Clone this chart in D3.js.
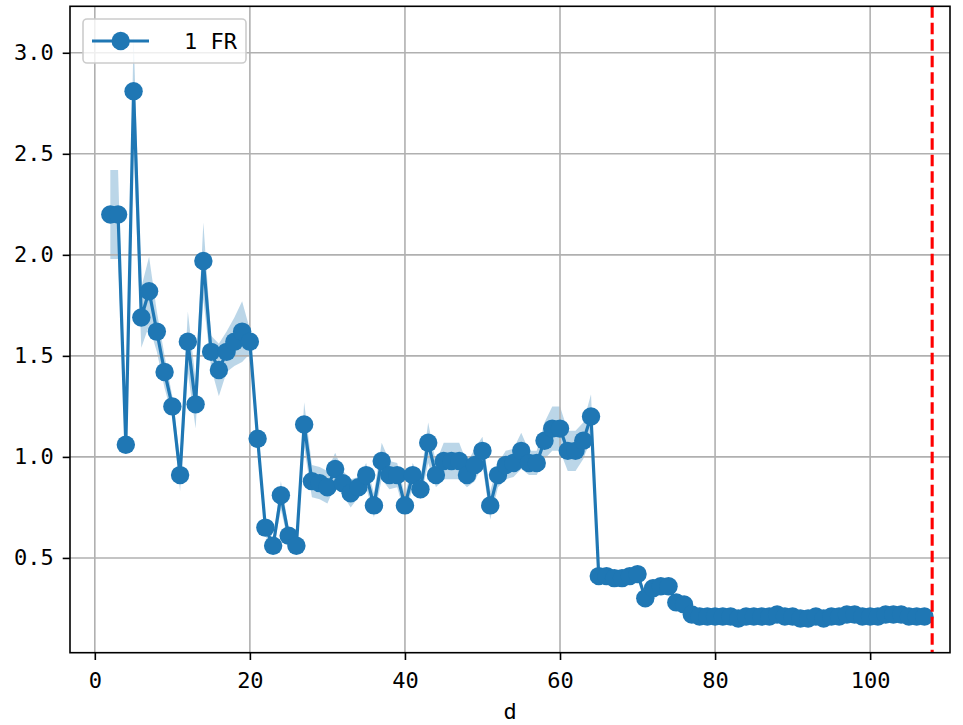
<!DOCTYPE html>
<html>
<head>
<meta charset="utf-8">
<script src="https://cdn.jsdelivr.net/npm/d3@7"></script>
<style>
  html, body { margin: 0; padding: 0; background: #fff; }
  svg { display: block; }
  text { font-family: "DejaVu Sans Mono", "Noto Sans Mono CJK JP", monospace; }
</style>
</head>
<body>
<svg id="chart" width="963" height="725"></svg>
<script>
// ---- data ----
const dValues = [2,3,4,5,6,7,8,9,10,11,12,13,14,15,16,17,18,19,20,21,22,23,24,25,26,27,28,29,30,31,32,33,34,35,36,37,38,39,40,41,42,43,44,45,46,47,48,49,50,51,52,53,54,55,56,57,58,59,60,61,62,63,64,65,66,67,68,69,70,71,72,73,74,75,76,77,78,79,80,81,82,83,84,85,86,87,88,89,90,91,92,93,94,95,96,97,98,99,100,101,102,103,104,105,106,107];
const frMean = [2.20,2.20,1.06,2.81,1.69,1.82,1.62,1.42,1.25,0.91,1.57,1.26,1.97,1.52,1.43,1.52,1.57,1.62,1.57,1.09,0.65,0.56,0.81,0.61,0.56,1.16,0.88,0.87,0.85,0.94,0.87,0.82,0.85,0.91,0.76,0.98,0.91,0.91,0.76,0.91,0.84,1.07,0.91,0.98,0.98,0.98,0.91,0.96,1.03,0.76,0.91,0.96,0.97,1.03,0.97,0.97,1.08,1.14,1.14,1.03,1.03,1.08,1.20,0.41,0.41,0.40,0.40,0.41,0.42,0.30,0.35,0.36,0.36,0.28,0.27,0.22,0.21,0.21,0.21,0.21,0.21,0.20,0.21,0.21,0.21,0.21,0.22,0.21,0.21,0.20,0.20,0.21,0.20,0.21,0.21,0.22,0.22,0.21,0.21,0.21,0.22,0.22,0.22,0.21,0.21,0.21];
const frStd = [0.22,0.22,0.04,0.28,0.15,0.17,0.10,0.08,0.05,0.08,0.15,0.12,0.19,0.08,0.13,0.10,0.12,0.15,0.06,0.05,0.04,0.03,0.07,0.04,0.03,0.11,0.08,0.08,0.08,0.08,0.06,0.07,0.05,0.06,0.06,0.09,0.07,0.06,0.05,0.06,0.05,0.10,0.06,0.09,0.09,0.09,0.06,0.08,0.07,0.07,0.06,0.07,0.07,0.09,0.06,0.06,0.09,0.11,0.11,0.10,0.10,0.09,0.11,0.01,0.01,0.01,0.01,0.01,0.01,0.02,0.02,0.02,0.02,0.02,0.02,0.02,0.01,0.01,0.01,0.01,0.01,0.01,0.01,0.01,0.01,0.01,0.01,0.01,0.01,0.01,0.01,0.01,0.01,0.01,0.01,0.01,0.01,0.01,0.01,0.01,0.01,0.01,0.01,0.01,0.01,0.01];
const xTicks = [0,20,40,60,80,100];
const yTicks = [0.5,1.0,1.5,2.0,2.5,3.0];
const cutoffX = 108;
const seriesLabel = "1 FR";
const xLabel = "d";

// ---- layout ----
const svg = d3.select("#chart");
const L = 70, R = 950, T = 6.3, B = 652.7;
const x = d3.scaleLinear().domain([-3.2, 110.3]).range([L, R]);
const y = d3.scaleLinear().domain([0.031, 3.23]).range([B, T]);
const blue = "#1f77b4";
const pts = dValues.map((d, i) => ({d, m: frMean[i], s: frStd[i]}));

svg.append("defs").append("clipPath").attr("id", "clip")
  .append("rect").attr("x", L).attr("y", T).attr("width", R - L).attr("height", B - T);

const bandLayer = svg.append("g").attr("clip-path", "url(#clip)");
const grid = svg.append("g");
const plot = svg.append("g").attr("clip-path", "url(#clip)");

// band
bandLayer.append("path").datum(pts)
  .attr("d", d3.area().x(p => x(p.d)).y0(p => y(p.m - p.s)).y1(p => y(p.m + p.s)))
  .attr("fill", blue).attr("fill-opacity", 0.3).attr("stroke", "none");

// grid
grid.selectAll(".gx").data(xTicks).enter().append("line")
  .attr("x1", d => x(d)).attr("x2", d => x(d)).attr("y1", T).attr("y2", B)
  .attr("stroke", "#b0b0b0").attr("stroke-width", 1.6);
grid.selectAll(".gy").data(yTicks).enter().append("line")
  .attr("x1", L).attr("x2", R).attr("y1", d => y(d)).attr("y2", d => y(d))
  .attr("stroke", "#b0b0b0").attr("stroke-width", 1.6);

// line
plot.append("path").datum(pts)
  .attr("d", d3.line().x(p => x(p.d)).y(p => y(p.m)))
  .attr("fill", "none").attr("stroke", blue).attr("stroke-width", 3.2)
  .attr("stroke-linejoin", "round").attr("stroke-linecap", "square");
// markers
plot.selectAll("circle").data(pts).enter().append("circle")
  .attr("cx", p => x(p.d)).attr("cy", p => y(p.m)).attr("r", 9.2)
  .attr("fill", blue);

// red cutoff line
svg.append("line")
  .attr("x1", x(cutoffX)).attr("x2", x(cutoffX)).attr("y1", T).attr("y2", B)
  .attr("stroke", "#ff0000").attr("stroke-width", 3.1)
  .attr("stroke-dasharray", "11.5,5");

// spines
svg.append("rect").attr("x", L).attr("y", T).attr("width", R - L).attr("height", B - T)
  .attr("fill", "none").attr("stroke", "#000").attr("stroke-width", 1.6);

// axes
const xAxis = svg.append("g").attr("transform", `translate(0,${B})`)
  .call(d3.axisBottom(x).tickValues(xTicks).tickFormat(d3.format("d")).tickSize(7.3).tickPadding(12));
const yAxis = svg.append("g").attr("transform", `translate(${L},0)`)
  .call(d3.axisLeft(y).tickValues(yTicks).tickFormat(d3.format(".1f")).tickSize(7.3).tickPadding(9));
[xAxis, yAxis].forEach(a => {
  a.select(".domain").remove();
  a.selectAll(".tick line").attr("stroke", "#000").attr("stroke-width", 1.6);
  a.selectAll(".tick text").attr("fill", "#000").style("font-size", "22px");
});

svg.append("text").attr("x", (L + R) / 2).attr("y", 719)
  .attr("text-anchor", "middle").style("font-size", "22px").attr("fill", "#000").text(xLabel);

// legend
const lg = svg.append("g");
lg.append("rect").attr("x", 83).attr("y", 19).attr("width", 163).attr("height", 44)
  .attr("rx", 4).attr("fill", "#fff").attr("fill-opacity", 0.8)
  .attr("stroke", "#cccccc").attr("stroke-width", 1.6);
lg.append("line").attr("x1", 92).attr("x2", 149).attr("y1", 41).attr("y2", 41)
  .attr("stroke", blue).attr("stroke-width", 3.2);
lg.append("circle").attr("cx", 120.7).attr("cy", 41).attr("r", 9.2).attr("fill", blue);
lg.append("text").attr("x", 237).attr("y", 49).attr("text-anchor", "end")
  .style("font-size", "22px").attr("fill", "#000").text(seriesLabel);
</script>
</body>
</html>
